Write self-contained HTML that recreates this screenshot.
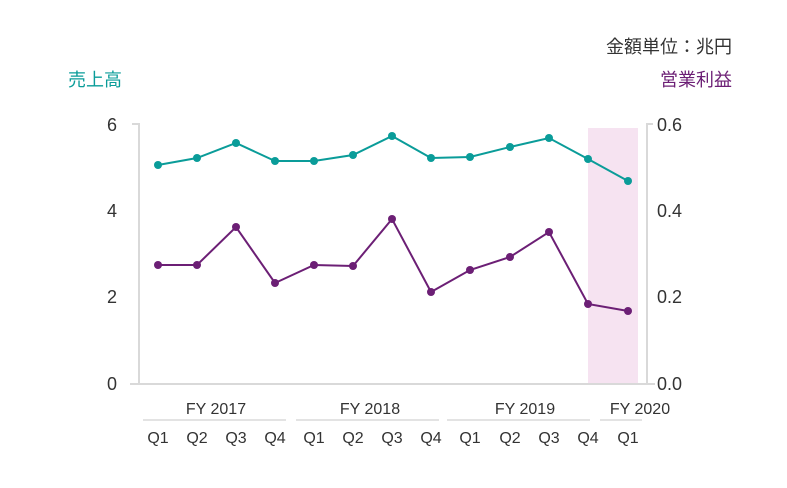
<!DOCTYPE html>
<html><head><meta charset="utf-8"><style>
body{margin:0;background:#fff;}
svg text{font-family:"Liberation Sans","Noto Sans CJK JP",sans-serif;}
</style></head><body>
<svg width="787" height="483" viewBox="0 0 787 483" xmlns="http://www.w3.org/2000/svg">
<rect width="787" height="483" fill="#fff"/>
<text x="732" y="53" font-size="18" fill="#333" text-anchor="end">金額単位：兆円</text>
<text x="68" y="86" font-size="18" fill="#0a9c99">売上高</text>
<text x="732" y="86" font-size="18" fill="#6c1f75" text-anchor="end">営業利益</text>
<rect x="588" y="128" width="50" height="256" fill="#f6e3f1"/>
<g stroke="#d9d9d9" stroke-width="2" fill="none">
<path d="M132 124 H139 V384"/>
<path d="M653 124 H647 V384"/>
<line x1="130" y1="384" x2="655" y2="384"/>
</g>
<g font-size="18" fill="#333">
<text x="117" y="131" text-anchor="end">6</text>
<text x="117" y="217" text-anchor="end">4</text>
<text x="117" y="303" text-anchor="end">2</text>
<text x="117" y="390" text-anchor="end">0</text>
<text x="657" y="131">0.6</text>
<text x="657" y="217">0.4</text>
<text x="657" y="303">0.2</text>
<text x="657" y="390">0.0</text>
</g>
<polyline fill="none" stroke="#0a9c99" stroke-width="2" points="158,165 197,158 236,143 275,161 314,161 353,155 392,136 431,158 470,157 510,147 549,138 588,159 628,181"/>
<g fill="#0a9c99">
<circle cx="158" cy="165" r="4"/><circle cx="197" cy="158" r="4"/><circle cx="236" cy="143" r="4"/><circle cx="275" cy="161" r="4"/><circle cx="314" cy="161" r="4"/><circle cx="353" cy="155" r="4"/><circle cx="392" cy="136" r="4"/><circle cx="431" cy="158" r="4"/><circle cx="470" cy="157" r="4"/><circle cx="510" cy="147" r="4"/><circle cx="549" cy="138" r="4"/><circle cx="588" cy="159" r="4"/><circle cx="628" cy="181" r="4"/>
</g>
<polyline fill="none" stroke="#6c1f75" stroke-width="2" points="158,265 197,265 236,227 275,283 314,265 353,266 392,219 431,292 470,270 510,257 549,232 588,304 628,311"/>
<g fill="#6c1f75">
<circle cx="158" cy="265" r="4"/><circle cx="197" cy="265" r="4"/><circle cx="236" cy="227" r="4"/><circle cx="275" cy="283" r="4"/><circle cx="314" cy="265" r="4"/><circle cx="353" cy="266" r="4"/><circle cx="392" cy="219" r="4"/><circle cx="431" cy="292" r="4"/><circle cx="470" cy="270" r="4"/><circle cx="510" cy="257" r="4"/><circle cx="549" cy="232" r="4"/><circle cx="588" cy="304" r="4"/><circle cx="628" cy="311" r="4"/>
</g>
<g font-size="16" fill="#333" text-anchor="middle">
<text x="216" y="414">FY 2017</text>
<text x="370" y="414">FY 2018</text>
<text x="525" y="414">FY 2019</text>
<text x="640" y="414">FY 2020</text>
</g>
<g stroke="#e3e3e3" stroke-width="2">
<line x1="143" y1="420" x2="286" y2="420"/>
<line x1="296" y1="420" x2="439" y2="420"/>
<line x1="447" y1="420" x2="590" y2="420"/>
<line x1="600" y1="420" x2="642" y2="420"/>
</g>
<g font-size="16" fill="#333" text-anchor="middle">
<text x="158" y="443">Q1</text><text x="197" y="443">Q2</text><text x="236" y="443">Q3</text><text x="275" y="443">Q4</text>
<text x="314" y="443">Q1</text><text x="353" y="443">Q2</text><text x="392" y="443">Q3</text><text x="431" y="443">Q4</text>
<text x="470" y="443">Q1</text><text x="510" y="443">Q2</text><text x="549" y="443">Q3</text><text x="588" y="443">Q4</text>
<text x="628" y="443">Q1</text>
</g>
</svg>
</body></html>
